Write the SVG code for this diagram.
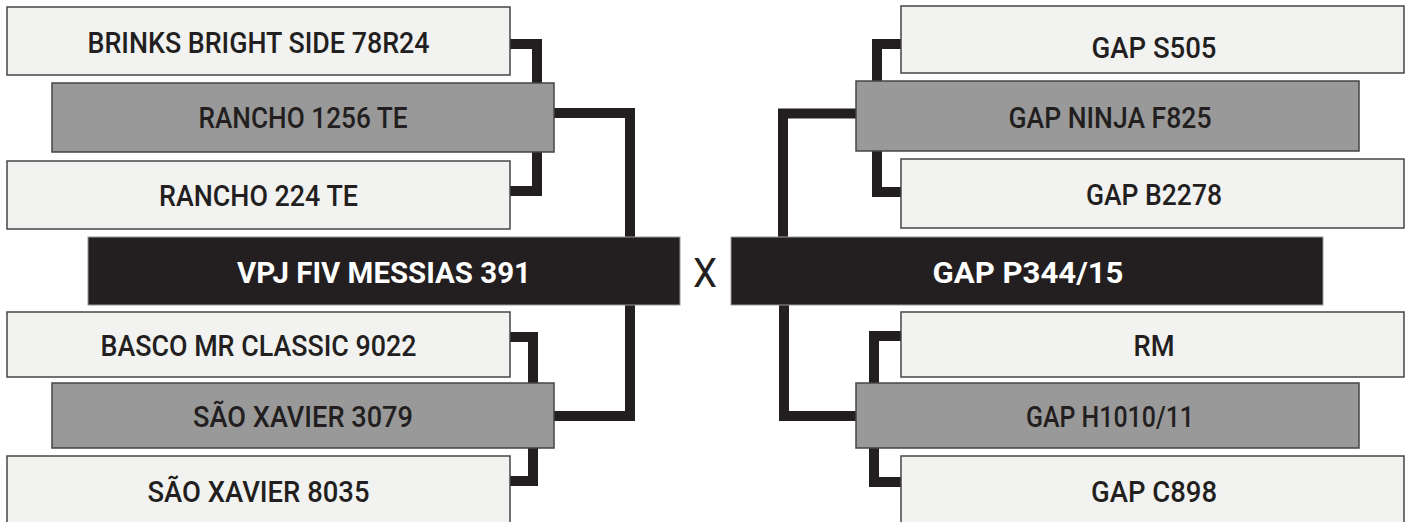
<svg xmlns="http://www.w3.org/2000/svg" width="1408" height="522" viewBox="0 0 1408 522">
<style>
.light{fill:#f2f2f0;stroke:#454545;stroke-width:1.5}
.grey{fill:#999999;stroke:#454545;stroke-width:1.5}
.black{fill:#231f20;stroke:#9a9a9a;stroke-width:1}
.lbl{font-family:Roboto,"Liberation Sans",sans-serif;font-size:29px;font-weight:500;fill:#231f20;text-anchor:middle}
.bold{font-family:Roboto,"Liberation Sans",sans-serif;font-size:30px;font-weight:bold;fill:#ffffff;text-anchor:middle}
.conn{fill:none;stroke:#231f20;stroke-width:10;stroke-linejoin:miter;stroke-linecap:butt}
</style>
<rect width="1408" height="522" fill="#ffffff"/>
<g id="connectors">
<polyline class="conn" points="510,44 537,44 537,90"/>
<polyline class="conn" points="510,191 537,191 537,145"/>
<polyline class="conn" points="550,113 630,113 630,250"/>
<polyline class="conn" points="510,337 533,337 533,390"/>
<polyline class="conn" points="510,481 533,481 533,440"/>
<polyline class="conn" points="550,416 630,416 630,295"/>
<polyline class="conn" points="901,44 877,44 877,90"/>
<polyline class="conn" points="901,192 877,192 877,145"/>
<polyline class="conn" points="860,113.5 783,113.5 783,250"/>
<polyline class="conn" points="901,336 874,336 874,390"/>
<polyline class="conn" points="901,482 874,482 874,440"/>
<polyline class="conn" points="860,416 784,416 784,295"/>
</g>
<g id="brinks"><rect class="light" x="7" y="7" width="503" height="68"/><text class="lbl" x="258.5" y="53" textLength="342" lengthAdjust="spacingAndGlyphs">BRINKS BRIGHT SIDE 78R24</text></g>
<g id="rancho1256"><rect class="grey" x="52" y="83" width="502" height="69"/><text class="lbl" x="303" y="128" textLength="209" lengthAdjust="spacingAndGlyphs">RANCHO 1256 TE</text></g>
<g id="rancho224"><rect class="light" x="7" y="161" width="503" height="68"/><text class="lbl" x="258.5" y="206" textLength="199" lengthAdjust="spacingAndGlyphs">RANCHO 224 TE</text></g>
<g id="vpj"><rect class="black" x="88" y="237" width="592" height="68"/><text class="bold" x="384" y="283" textLength="294" lengthAdjust="spacingAndGlyphs">VPJ FIV MESSIAS 391</text></g>
<g id="basco"><rect class="light" x="7" y="312" width="503" height="65"/><text class="lbl" x="258.5" y="356" textLength="316" lengthAdjust="spacingAndGlyphs">BASCO MR CLASSIC 9022</text></g>
<g id="saoxavier3079"><rect class="grey" x="52" y="383" width="502" height="65"/><text class="lbl" x="303" y="427" textLength="220" lengthAdjust="spacingAndGlyphs">SÃO XAVIER 3079</text></g>
<g id="saoxavier8035"><rect class="light" x="7" y="456" width="503" height="70"/><text class="lbl" x="258.5" y="502" textLength="222" lengthAdjust="spacingAndGlyphs">SÃO XAVIER 8035</text></g>
<g id="versus"><text x="705" y="287" font-family="Roboto,'Liberation Sans',sans-serif" font-size="41" fill="#231f20" text-anchor="middle" textLength="24" lengthAdjust="spacingAndGlyphs">X</text></g>
<g id="gaps505"><rect class="light" x="901" y="6" width="503" height="67"/><text class="lbl" x="1154" y="58" textLength="125" lengthAdjust="spacingAndGlyphs">GAP S505</text></g>
<g id="gapninja"><rect class="grey" x="856" y="81" width="503" height="70"/><text class="lbl" x="1110" y="128" textLength="203" lengthAdjust="spacingAndGlyphs">GAP NINJA F825</text></g>
<g id="gapb2278"><rect class="light" x="901" y="159" width="503" height="69"/><text class="lbl" x="1154" y="205" textLength="136" lengthAdjust="spacingAndGlyphs">GAP B2278</text></g>
<g id="gapp344"><rect class="black" x="731" y="237" width="592" height="68"/><text class="bold" x="1028" y="283" textLength="191" lengthAdjust="spacingAndGlyphs">GAP P344/15</text></g>
<g id="rm"><rect class="light" x="901" y="312" width="503" height="65"/><text class="lbl" x="1154" y="356" textLength="41" lengthAdjust="spacingAndGlyphs">RM</text></g>
<g id="gaph1010"><rect class="grey" x="856" y="383" width="503" height="65"/><text class="lbl" x="1110" y="427" textLength="168" lengthAdjust="spacingAndGlyphs">GAP H1010/11</text></g>
<g id="gapc898"><rect class="light" x="901" y="456" width="503" height="70"/><text class="lbl" x="1154" y="502" textLength="126" lengthAdjust="spacingAndGlyphs">GAP C898</text></g>
</svg>
